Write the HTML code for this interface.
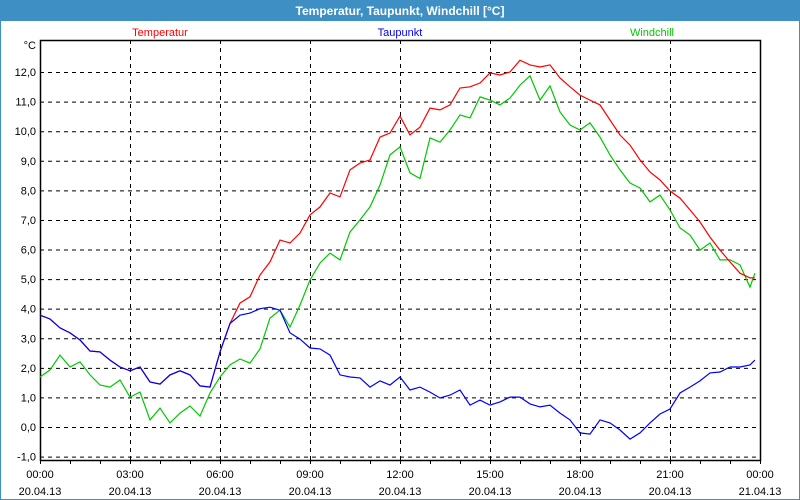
<!DOCTYPE html>
<html><head><meta charset="utf-8"><style>
body{margin:0;background:#fff;}
#win{position:relative;width:798px;height:498px;border:1px solid #3d8fc4;background:#fff;overflow:hidden;font-family:"Liberation Sans",sans-serif;}
#titlebar{position:absolute;left:0;top:0;width:798px;height:20px;background:#3d8fc4;color:#fff;font-weight:bold;font-size:12px;text-align:center;line-height:21px;}
svg{position:absolute;left:-1px;top:-1px;}
</style></head><body>
<div id="win">
<div id="titlebar">Temperatur, Taupunkt, Windchill [°C]</div>
<svg id="chart" width="800" height="500" font-family="Liberation Sans, sans-serif" font-size="11"></svg>
</div>
<script>
const yTicks = [-1,0,1,2,3,4,5,6,7,8,9,10,11,12];
const yTickLabels = ["-1,0","0,0","1,0","2,0","3,0","4,0","5,0","6,0","7,0","8,0","9,0","10,0","11,0","12,0"];
const xTicks = [0,3,6,9,12,15,18,21,24];
const xTimeLabels = ["00:00","03:00","06:00","09:00","12:00","15:00","18:00","21:00","00:00"];
const xDateLabels = ["20.04.13","20.04.13","20.04.13","20.04.13","20.04.13","20.04.13","20.04.13","20.04.13","21.04.13"];
const temperatur = [3.78,3.65,3.35,3.18,2.94,2.57,2.54,2.26,2.03,1.9,2.03,1.52,1.45,1.76,1.9,1.76,1.39,1.35,2.54,3.5,
4.19,4.4,5.14,5.58,6.32,6.22,6.56,7.17,7.44,7.91,7.78,8.69,8.92,9.03,9.8,9.94,10.51,9.87,10.14,10.78,
10.72,10.89,11.46,11.5,11.63,11.97,11.9,12.0,12.4,12.24,12.17,12.24,11.8,11.5,11.22,11.05,10.89,10.38,9.87,9.53,
9.03,8.62,8.35,7.98,7.74,7.34,6.93,6.42,5.98,5.58,5.2,5.04,5.04];
const taupunkt = [3.78,3.65,3.35,3.18,2.94,2.57,2.54,2.26,2.03,1.9,2.03,1.52,1.45,1.76,1.9,1.76,1.39,1.35,2.54,3.5,
3.78,3.85,4.0,4.05,3.95,3.18,2.97,2.67,2.64,2.43,1.76,1.69,1.66,1.35,1.56,1.42,1.69,1.25,1.35,1.18,
0.98,1.08,1.25,0.74,0.91,0.74,0.85,1.01,1.01,0.78,0.68,0.74,0.47,0.24,-0.2,-0.24,0.24,0.14,-0.1,-0.41,
-0.2,0.14,0.44,0.61,1.15,1.35,1.56,1.83,1.86,2.03,2.03,2.1,2.26];
const windchill = [1.69,1.93,2.43,2.03,2.2,1.76,1.42,1.35,1.59,1.01,1.18,0.24,0.64,0.14,0.47,0.71,0.37,1.15,1.69,2.1,
2.3,2.16,2.64,3.68,3.95,3.38,4.12,4.97,5.54,5.88,5.65,6.59,7.0,7.44,8.18,9.2,9.47,8.59,8.4,9.77,
9.63,10.04,10.55,10.45,11.16,11.05,10.89,11.12,11.56,11.87,11.05,11.53,10.65,10.21,10.04,10.28,9.8,9.2,8.69,8.25,
8.08,7.61,7.84,7.34,6.73,6.49,5.98,6.22,5.65,5.65,5.48,4.73,5.2];

const NS="http://www.w3.org/2000/svg";
const svg=document.getElementById('chart');
const L=40,R=760,T=40,B=460;
function xs(h){return L+(R-L)*h/24;}
function ys(v){return 427-29.58*v;}
function tAt(i){return Math.min(i/3,23.83);}
function mk(tag,attrs){const e=document.createElementNS(NS,tag);for(const k in attrs)e.setAttribute(k,attrs[k]);svg.appendChild(e);return e;}

yTicks.forEach((v,i)=>{
  const g=mk('line',{x1:L,x2:R,y1:ys(v)+0.5,y2:ys(v)+0.5,stroke:'#000','stroke-dasharray':'4,4'});
  
  
  const t=mk('text',{x:36,y:ys(v)+4,'text-anchor':'end',fill:'#000'});
  t.textContent=yTickLabels[i];
  
  
});
xTicks.forEach((h,i)=>{
  if(i>0&&i<xTicks.length-1){
    const g=mk('line',{x1:xs(h)+0.5,x2:xs(h)+0.5,y1:T,y2:B,stroke:'#000','stroke-dasharray':'4,4'});
    
    
  }
  const t=mk('text',{x:xs(h),y:478,'text-anchor':'middle',fill:'#000'});
  t.textContent=xTimeLabels[i];
  
  
  const d=mk('text',{x:xs(h),y:495,'text-anchor':'middle',fill:'#000'});
  d.textContent=xDateLabels[i];
  
  
});
for(let h=0;h<=24;h++){
  const m=mk('line',{x1:xs(h)+0.5,x2:xs(h)+0.5,y1:B,y2:B+4,stroke:'#000'});
  
  
}
const frame=mk('rect',{x:L+0.5,y:T+0.5,width:R-L,height:B-T,fill:'none',stroke:'#000','stroke-width':1.5});



function series(arr,color,name){
  const pts=arr.map((v,i)=>xs(tAt(i)).toFixed(1)+','+ys(v).toFixed(1)).join(' ');
  const p=mk('polyline',{points:pts,fill:'none',stroke:color,'stroke-width':1.2});
  
  
}
series(windchill,'#00c800','windchill-line');
series(temperatur,'#ff0000','temperatur-line');
series(taupunkt,'#0000ff','taupunkt-line');

const unit=mk('text',{x:36,y:49,'text-anchor':'end',fill:'#000'});
unit.textContent='°C';


[['Temperatur','#ff0000',160,'legend-temperatur'],['Taupunkt','#0000ff',400,'legend-taupunkt'],['Windchill','#00c800',652,'legend-windchill']].forEach(a=>{
  const t=mk('text',{x:a[2],y:36,'text-anchor':'middle',fill:a[1]});
  t.textContent=a[0];
  
  
});
</script>
</body></html>
